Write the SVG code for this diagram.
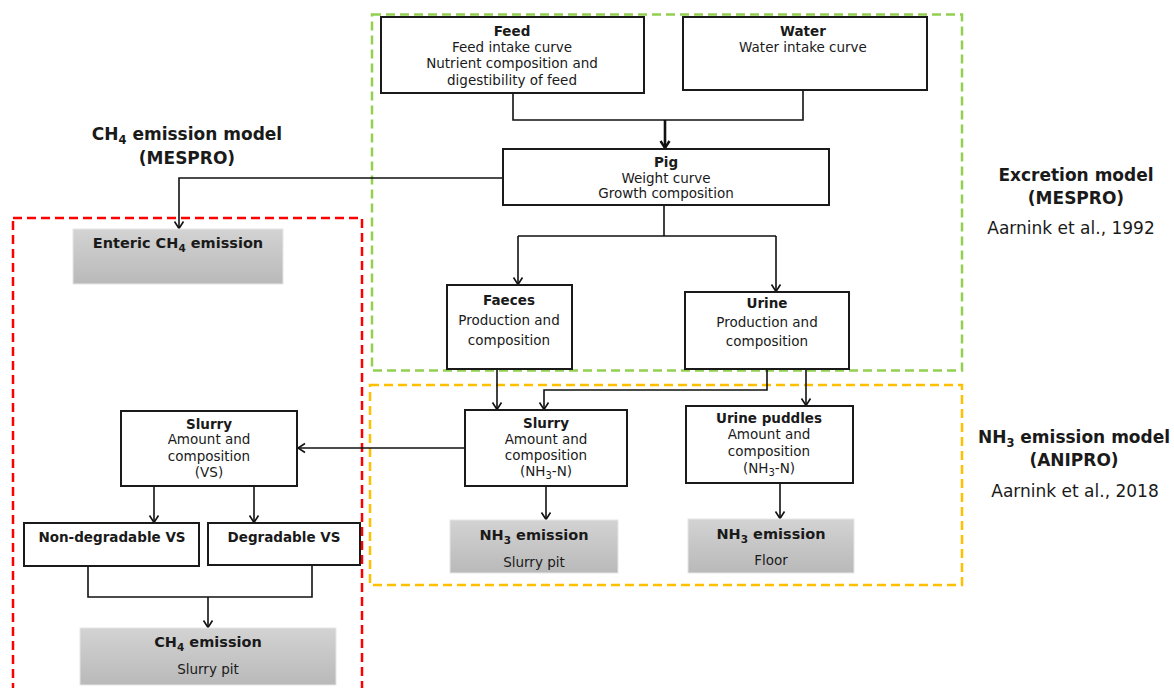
<svg xmlns="http://www.w3.org/2000/svg" width="1174" height="688" viewBox="0 0 1174 688">
<style>
text{font-family:"DejaVu Sans","Liberation Sans",sans-serif;fill:#1a1a1a;text-anchor:middle}
.t{font-size:13.5px}
.b{font-size:13.5px;font-weight:bold}
.eb{font-size:14.5px;font-weight:bold}
.title{font-size:17px;font-weight:bold}
.ref{font-size:17px}
.box{fill:#fff;stroke:#1a1a1a;stroke-width:2}
.em{fill:url(#g);stroke:#e6e6e6;stroke-width:1}
.c{fill:none;stroke:#111;stroke-width:1.6}
.thick{fill:none;stroke:#111;stroke-width:2.6}
.frame{fill:none;stroke-width:2.5;stroke-dasharray:9 5}
</style>
<defs>
<linearGradient id="g" x1="0" y1="0" x2="0" y2="1">
<stop offset="0" stop-color="#d3d3d3"/>
<stop offset="1" stop-color="#b9b9b9"/>
</linearGradient>
<marker id="a" markerWidth="12" markerHeight="12" refX="10.5" refY="6" orient="auto" markerUnits="userSpaceOnUse" viewBox="0 0 12 12">
<path d="M3.5,1.5 L10.5,6 L3.5,10.5" fill="none" stroke="#111" stroke-width="1.6"/>
</marker>
<marker id="at" markerWidth="12" markerHeight="12" refX="10.5" refY="6" orient="auto" markerUnits="userSpaceOnUse" viewBox="0 0 12 12">
<path d="M3.5,1.5 L10.5,6 L3.5,10.5" fill="none" stroke="#111" stroke-width="2.4"/>
</marker>
</defs>

<g id="frames">
<rect class="frame" x="372" y="14.5" width="590" height="356" stroke="#92d050"/>
<rect class="frame" x="370" y="385" width="592" height="200" stroke="#ffc000"/>
<rect class="frame" x="13" y="218" width="349" height="490" stroke="#ff0000"/>
</g>

<g id="labels">
<text class="title" x="187" y="140">CH<tspan font-size="11.5" dy="4">4</tspan><tspan dy="-4"> emission model</tspan></text>
<text class="title" x="187" y="164">(MESPRO)</text>
<text class="title" x="1076" y="181">Excretion model</text>
<text class="title" x="1076" y="204">(MESPRO)</text>
<text class="ref" x="1071" y="234">Aarnink et al., 1992</text>
<text class="title" x="1074" y="443">NH<tspan font-size="11.5" dy="4">3</tspan><tspan dy="-4"> emission model</tspan></text>
<text class="title" x="1074" y="466">(ANIPRO)</text>
<text class="ref" x="1075" y="497">Aarnink et al., 2018</text>
</g>

<g id="connectors">
<path class="c" d="M513,93 V120 H803 V90"/>
<path class="thick" d="M665,120 V148" marker-end="url(#at)"/>
<path class="c" d="M503,178 H179 V228.5" marker-end="url(#a)"/>
<path class="c" d="M664,205 V236 M518,236 H776"/>
<path class="c" d="M518,236 V284.5" marker-end="url(#a)"/>
<path class="c" d="M776,236 V291.5" marker-end="url(#a)"/>
<path class="c" d="M497,369 V409.5" marker-end="url(#a)"/>
<path class="c" d="M767,369 V390 H544 V409.5" marker-end="url(#a)"/>
<path class="c" d="M806,369 V405.5" marker-end="url(#a)"/>
<path class="c" d="M465,448 H298" marker-end="url(#a)"/>
<path class="c" d="M546,486 V519.5" marker-end="url(#a)"/>
<path class="c" d="M780,483 V518.5" marker-end="url(#a)"/>
<path class="c" d="M154,486 V522.5" marker-end="url(#a)"/>
<path class="c" d="M254,486 V522.5" marker-end="url(#a)"/>
<path class="c" d="M88,566 V597 H312 V565"/>
<path class="c" d="M208,597 V627.5" marker-end="url(#a)"/>
</g>

<g id="feed">
<rect class="box" x="381" y="17" width="263" height="76"/>
<text class="b" x="512" y="36">Feed</text>
<text class="t" x="512" y="52">Feed intake curve</text>
<text class="t" x="512" y="68">Nutrient composition and</text>
<text class="t" x="512" y="85">digestibility of feed</text>
</g>

<g id="water">
<rect class="box" x="683" y="17" width="244" height="73"/>
<text class="b" x="803" y="36">Water</text>
<text class="t" x="803" y="52">Water intake curve</text>
</g>

<g id="pig">
<rect class="box" x="503" y="149" width="326" height="56"/>
<text class="b" x="666" y="167">Pig</text>
<text class="t" x="666" y="183">Weight curve</text>
<text class="t" x="666" y="198">Growth composition</text>
</g>

<g id="faeces">
<rect class="box" x="447" y="285" width="125" height="84"/>
<text class="b" x="509" y="305">Faeces</text>
<text class="t" x="509" y="325">Production and</text>
<text class="t" x="509" y="345">composition</text>
</g>

<g id="urine">
<rect class="box" x="685" y="292" width="164" height="77"/>
<text class="b" x="767" y="308">Urine</text>
<text class="t" x="767" y="327">Production and</text>
<text class="t" x="767" y="346">composition</text>
</g>

<g id="enteric">
<rect class="em" x="73" y="229" width="210" height="55"/>
<text class="eb" x="178" y="248">Enteric CH<tspan font-size="10.5" dy="3.5">4</tspan><tspan dy="-3.5"> emission</tspan></text>
</g>

<g id="slurry-nh3">
<rect class="box" x="465" y="410" width="162" height="76"/>
<text class="b" x="546" y="428">Slurry</text>
<text class="t" x="546" y="444">Amount and</text>
<text class="t" x="546" y="460">composition</text>
<text class="t" x="546" y="476">(NH<tspan font-size="10" dy="3">3</tspan><tspan dy="-3">-N)</tspan></text>
</g>

<g id="urine-puddles">
<rect class="box" x="686" y="406" width="167" height="77"/>
<text class="b" x="769" y="423">Urine puddles</text>
<text class="t" x="769" y="439">Amount and</text>
<text class="t" x="769" y="456">composition</text>
<text class="t" x="769" y="473">(NH<tspan font-size="10" dy="3">3</tspan><tspan dy="-3">-N)</tspan></text>
</g>

<g id="nh3-slurry-pit">
<rect class="em" x="450" y="520" width="168" height="53"/>
<text class="eb" x="534" y="540">NH<tspan font-size="10.5" dy="3.5">3</tspan><tspan dy="-3.5"> emission</tspan></text>
<text class="t" x="534" y="567">Slurry pit</text>
</g>

<g id="nh3-floor">
<rect class="em" x="688" y="519" width="166" height="54"/>
<text class="eb" x="771" y="539">NH<tspan font-size="10.5" dy="3.5">3</tspan><tspan dy="-3.5"> emission</tspan></text>
<text class="t" x="771" y="565">Floor</text>
</g>

<g id="slurry-vs">
<rect class="box" x="121" y="411" width="176" height="75"/>
<text class="b" x="209" y="429">Slurry</text>
<text class="t" x="209" y="444">Amount and</text>
<text class="t" x="209" y="461">composition</text>
<text class="t" x="209" y="477">(VS)</text>
</g>

<g id="non-degradable">
<rect class="box" x="24" y="523" width="175" height="43"/>
<text class="b" x="112" y="542">Non-degradable VS</text>
</g>

<g id="degradable">
<rect class="box" x="208" y="523" width="152" height="42"/>
<text class="b" x="284" y="542">Degradable VS</text>
</g>

<g id="ch4-slurry-pit">
<rect class="em" x="80" y="628" width="256" height="57"/>
<text class="eb" x="208" y="647">CH<tspan font-size="10.5" dy="3.5">4</tspan><tspan dy="-3.5"> emission</tspan></text>
<text class="t" x="208" y="674">Slurry pit</text>
</g>
</svg>
